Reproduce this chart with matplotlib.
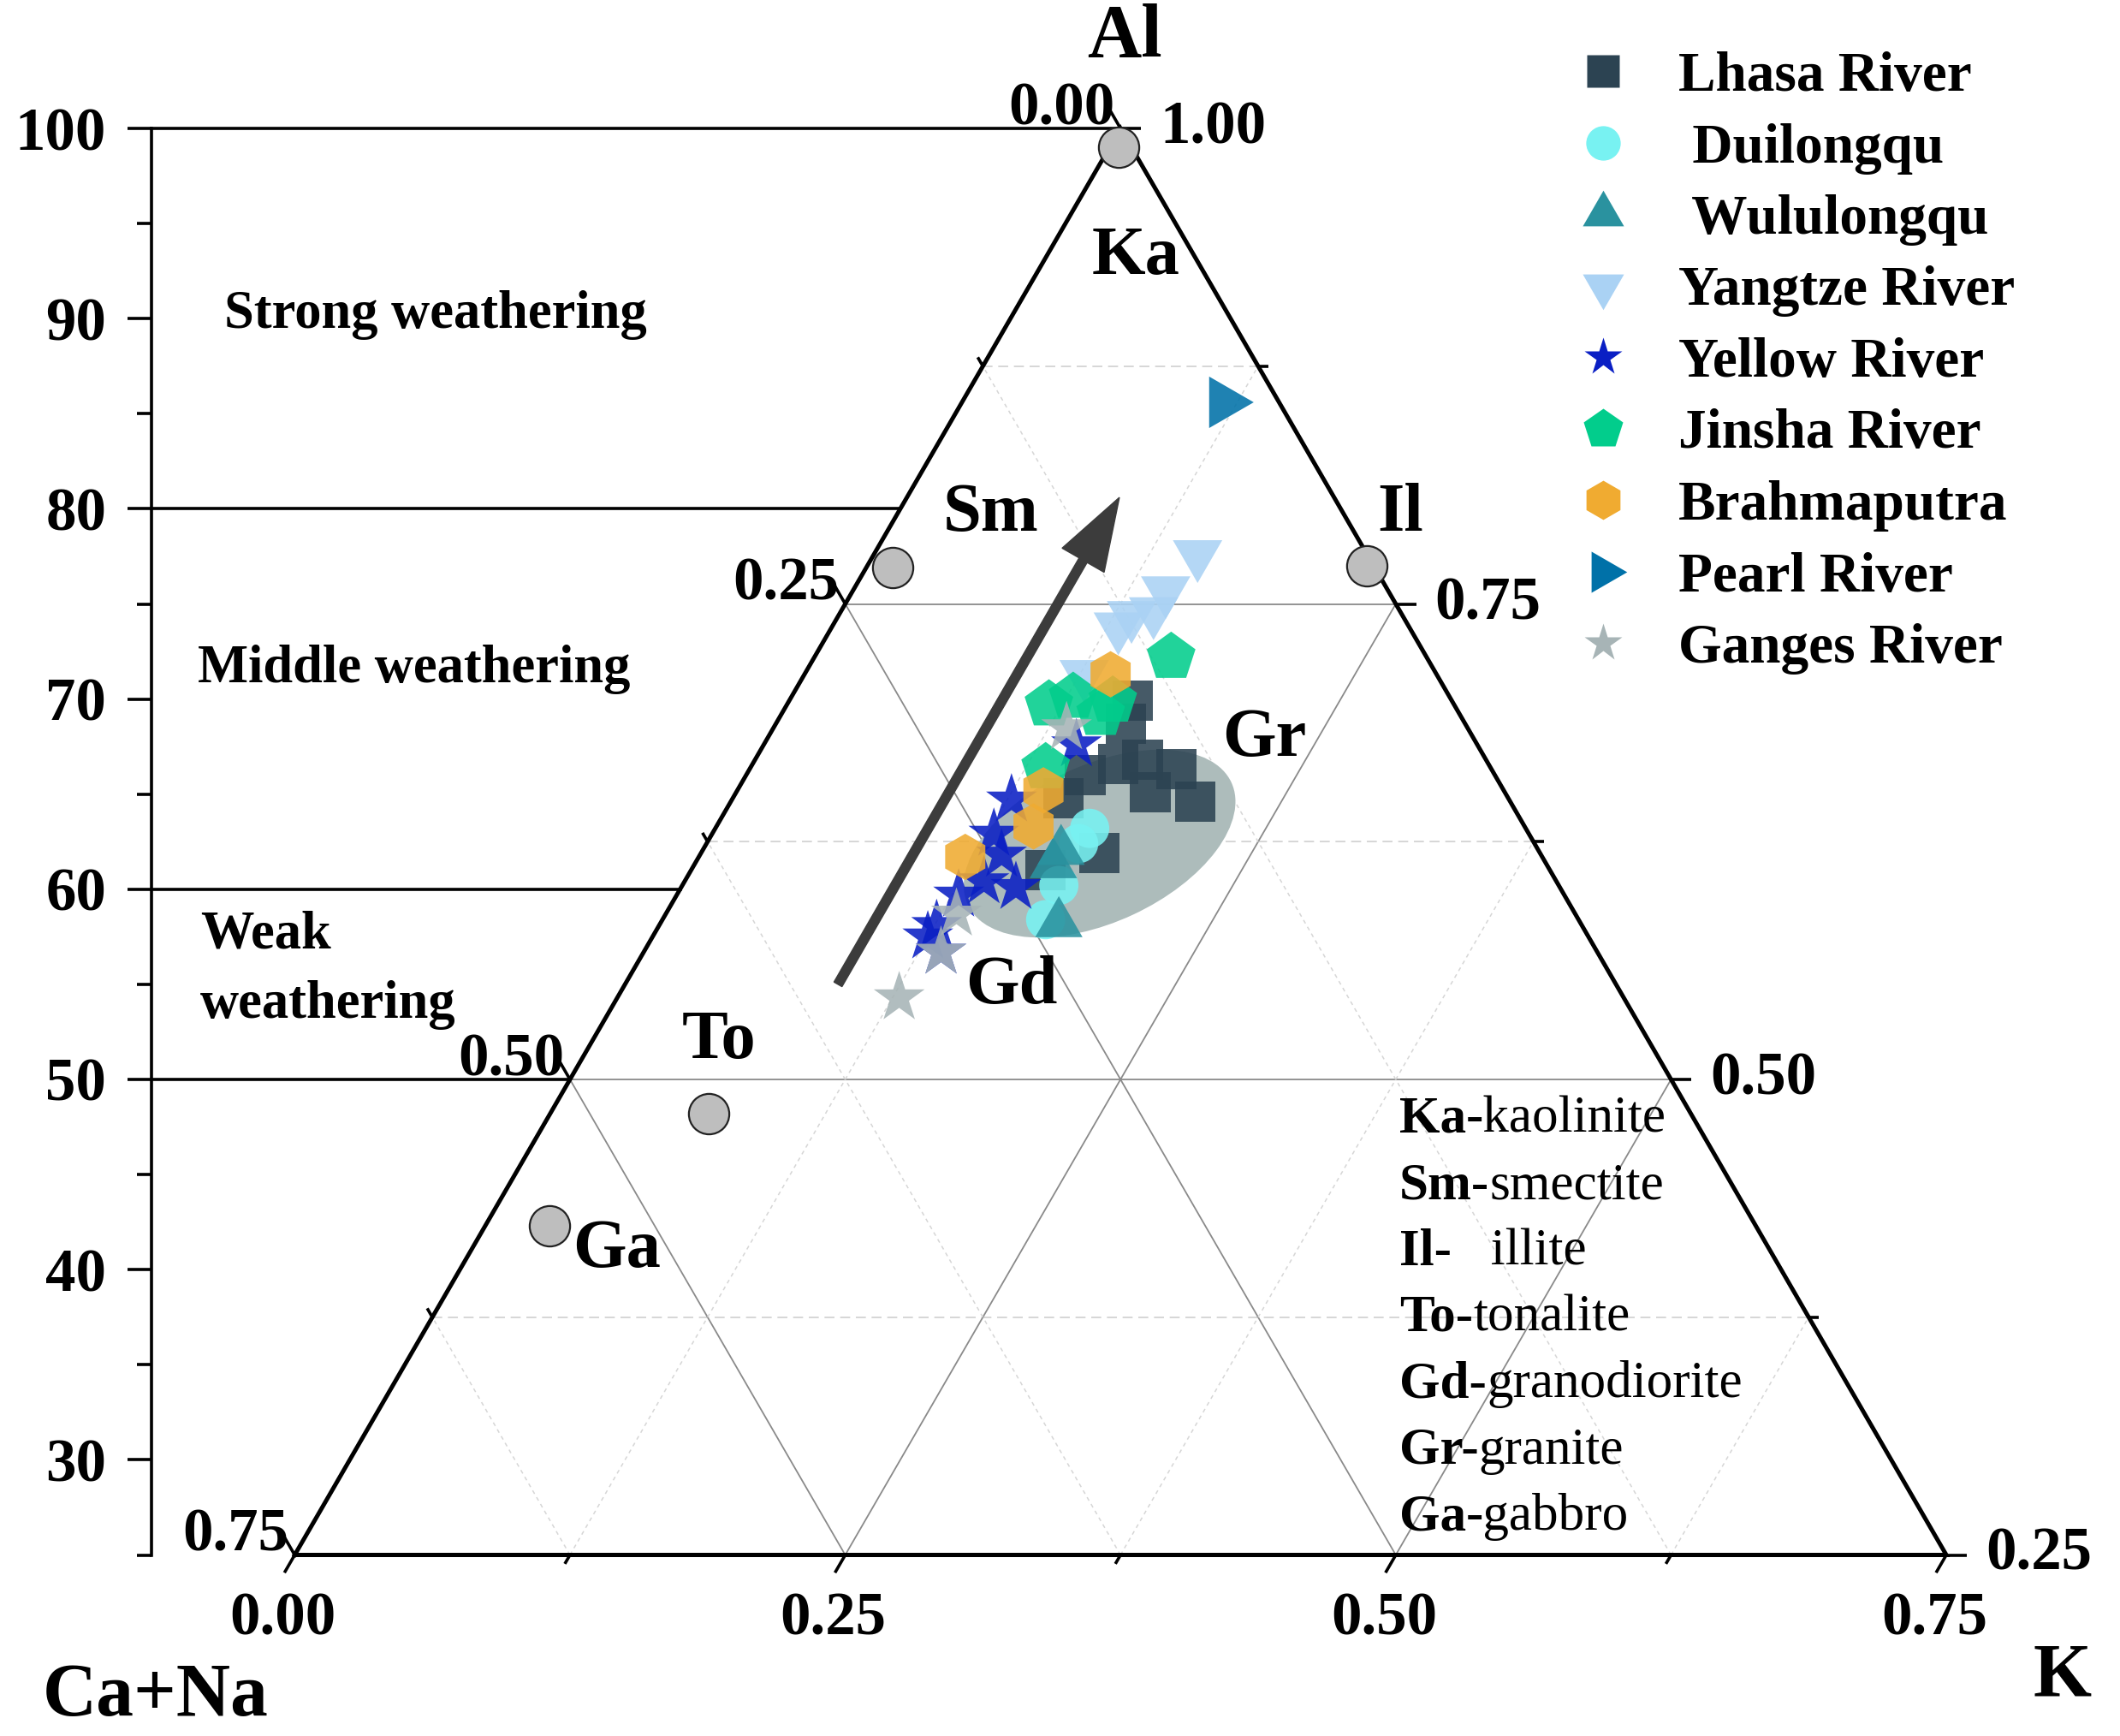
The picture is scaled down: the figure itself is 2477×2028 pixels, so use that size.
import numpy as np
import matplotlib
matplotlib.use("Agg")
import matplotlib.pyplot as plt
from matplotlib.patches import Ellipse, FancyArrow
from matplotlib.lines import Line2D

plt.rcParams['font.family'] = ['Liberation Serif', 'DejaVu Serif']
plt.rcParams['font.weight'] = 'bold'

# ---------------- data (ternary fractions; Ca+Na = 1 - Al - K) ----------------
lhasa_al = [0.699, 0.687, 0.660, 0.666, 0.668, 0.651, 0.663, 0.646, 0.619, 0.610, 0.648]
lhasa_k = [0.156, 0.159, 0.154, 0.166, 0.176, 0.188, 0.194, 0.211, 0.181, 0.161, 0.150]
duilong_al = [0.632, 0.624, 0.602, 0.584]
duilong_k = [0.170, 0.169, 0.171, 0.174]
wulu_al = [0.620, 0.613, 0.582]
wulu_k = [0.163, 0.163, 0.181]
yangtze_al = [0.776, 0.757, 0.746, 0.744, 0.738, 0.713]
yangtze_k = [0.147, 0.142, 0.142, 0.133, 0.130, 0.127]
yellow_al = [0.676, 0.647, 0.629, 0.601, 0.604, 0.597, 0.581, 0.575, 0.567, 0.618]
yellow_k = [0.142, 0.127, 0.128, 0.152, 0.136, 0.128, 0.126, 0.125, 0.135, 0.137]
jinsha_al = [0.722, 0.697, 0.701, 0.692, 0.699, 0.664]
jinsha_k = [0.162, 0.119, 0.128, 0.145, 0.147, 0.134]
brahma_al = [0.713, 0.652, 0.633, 0.617]
brahma_k = [0.139, 0.139, 0.144, 0.121]
pearl_al = [0.856]
pearl_k = [0.119]
ganges_al = [0.685, 0.587, 0.567, 0.543]
ganges_k = [0.133, 0.132, 0.135, 0.128]

series_names = ['Lhasa River', ' Duilongqu', ' Wululongqu', 'Yangtze River', 'Yellow River',
                'Jinsha River', 'Brahmaputra', 'Pearl River', 'Ganges River']

# reference minerals / rocks (grey circles)
ref_names = ['Ka', 'Sm', 'Il', 'To', 'Ga']
ref_al = [0.990, 0.769, 0.770, 0.482, 0.423]
ref_k = [0.004, 0.012, 0.227, 0.072, 0.029]

# granite/granodiorite field (ellipse) and weathering trend arrow
field_center_al, field_center_k = 0.624, 0.1785
arrow_start_al, arrow_start_k = 0.550, 0.0967
arrow_end_al, arrow_end_k = 0.806, 0.0965

cia_major = [30, 40, 50, 60, 70, 80, 90, 100]
cia_minor = [25, 35, 45, 55, 65, 75, 85, 95]
cia_lines = [100, 80, 60, 50]
tern_major = [0.0, 0.25, 0.5, 0.75]
tern_minor = [0.125, 0.375, 0.625]

abbrev_bold = ['Ka', 'Sm-', 'Il-', 'To-', 'Gd-', 'Gr-', 'Ga']
abbrev_rest = ['-kaolinite', 'smectite', '   illite', 'tonalite', 'granodiorite', 'granite', '-gabbro']

# ---------------- figure ----------------
W, H = 2477, 2028
fig = plt.figure(figsize=(W / 100, H / 100), dpi=100)
ax = fig.add_axes([0, 0, 1, 1])

R3 = np.sqrt(3) / 2
AL_MIN = 0.25


def tern(al, k):
    al = np.asarray(al, float)
    k = np.asarray(k, float)
    return k + al / 2, al * R3


S, X0, ALPX, AL1Y = 2573.0, 22.7, 2222.0, 150.0
ax.set_xlim(-X0 / S, (W - X0) / S)
ax.set_ylim((1 - (H - AL1Y) / ALPX) * R3, (1 + AL1Y / ALPX) * R3)


def fxy(xs, ys):
    return xs / 1568.0, 1 - ys / 1284.0


# grid lines
GRID_SOLID = dict(color='#8a8a8a', lw=1.3, zorder=1)
GRID_DASH = dict(color='#d0d0d0', lw=1.2, zorder=1, dashes=(7, 4))
GRID_DOT = dict(color='#d6d6d6', lw=1.1, zorder=1, dashes=(3, 3))
for v in [0.5, 0.75]:
    ax.plot(*tern([v, v], [0, 1 - v]), **GRID_SOLID)
for v in [0.375, 0.625, 0.875]:
    ax.plot(*tern([v, v], [0, 1 - v]), **GRID_DASH)
for v in [0.25, 0.5]:
    ax.plot(*tern([AL_MIN, 1 - v], [v, v]), **GRID_SOLID)
    ax.plot(*tern([AL_MIN, 1 - v], [1 - AL_MIN - v, 0]), **GRID_SOLID)
for v in tern_minor:
    ax.plot(*tern([AL_MIN, 1 - v], [v, v]), **GRID_DOT)
    ax.plot(*tern([AL_MIN, 1 - v], [1 - AL_MIN - v, 0]), **GRID_DOT)

# triangle frame
tx, ty = tern([AL_MIN, 1.0, AL_MIN, AL_MIN], [0, 0, 1 - AL_MIN, 0])
ax.plot(tx, ty, color='black', lw=3.6, zorder=6, solid_joinstyle='miter')

# ternary ticks
LMAJ, LMIN = 24 / S, 12 / S
TK = dict(color='black', lw=2.6, zorder=6, solid_capstyle='butt')
for vals, L in [(tern_major, LMAJ), (tern_minor, LMIN)]:
    for v in vals:
        x, y = tern(1 - v, v)            # right edge (Al axis)
        ax.plot([x, x + L], [y, y], **TK)
        x, y = tern(AL_MIN, v)           # bottom edge (K axis)
        ax.plot([x, x - 0.5 * L], [y, y - R3 * L], **TK)
        x, y = tern(1 - v, 0)            # left edge (Ca+Na axis)
        ax.plot([x, x - 0.5 * L], [y, y + R3 * L], **TK)

TL = dict(fontsize=51, fontweight='bold', textcoords='offset points', zorder=7)
for v in tern_major:
    ax.annotate(f'{1 - v:.2f}', xy=tern(1 - v, v), xytext=(33, 0), ha='left', va='center', **TL)
    ax.annotate(f'{v:.2f}', xy=tern(AL_MIN, v), xytext=(-10, -54), ha='center', va='center', **TL)
    ax.annotate(f'{v:.2f}', xy=tern(1 - v, 0), xytext=(-5, 16), ha='right', va='center', **TL)

# CIA axis (left)
XCIA = (177 - X0) / S
for side in ['top', 'right', 'bottom']:
    ax.spines[side].set_visible(False)
ax.spines['left'].set_position(('data', XCIA))
ax.spines['left'].set_bounds(0.25 * R3, 1.0 * R3)
ax.spines['left'].set_linewidth(2.6)
ax.set_yticks(np.array(cia_major) / 100 * R3, labels=[str(v) for v in cia_major])
ax.set_yticks(np.array(cia_minor) / 100 * R3, minor=True)
ax.tick_params(axis='y', which='major', direction='out', length=20, width=2.6, pad=18, labelsize=51)
ax.tick_params(axis='y', which='minor', direction='out', length=12, width=2.6)
for lbl in ax.get_yticklabels():
    lbl.set_fontweight('bold')
ax.set_xticks([])
for c in cia_lines:
    a = c / 100
    ax.plot([XCIA, a / 2], [a * R3, a * R3], color='black', lw=2.6, zorder=5)

# field ellipse
ex, ey = tern(field_center_al, field_center_k)
ax.add_patch(Ellipse((ex, ey), width=0.132, height=0.0715, angle=25,
                     facecolor='#adbcbb', edgecolor='none', zorder=2))

# arrow
ax0, ay0 = tern(arrow_start_al, arrow_start_k)
ax1, ay1 = tern(arrow_end_al, arrow_end_k)
ax.add_patch(FancyArrow(ax0, ay0, ax1 - ax0, ay1 - ay0, width=0.0042, head_width=0.022,
                        head_length=0.033, length_includes_head=True,
                        color='#3c3c3c', zorder=5))

# reference circles
rx, ry = tern(ref_al, ref_k)
ax.scatter(rx, ry, s=34 ** 2, marker='o', facecolor='#bebebe', edgecolor='#222222',
           linewidths=1.6, zorder=7)

# data series
series_al = [lhasa_al, duilong_al, wulu_al, yangtze_al, yellow_al, jinsha_al, brahma_al, pearl_al, ganges_al]
series_k = [lhasa_k, duilong_k, wulu_k, yangtze_k, yellow_k, jinsha_k, brahma_k, pearl_k, ganges_k]
markers = ['s', 'o', (3, 0, 0), (3, 0, 180), '*', 'p', 'h', (3, 0, 270), '*']
sizes = [34, 33, 46, 48, 45, 43, 39, 50, 45]
leg_sizes = [28, 29, 40, 40, 33, 35, 33, 40, 33]
colors = ['#2c4352', '#78f2f2', '#2a929f', '#aad2f4', '#0a1fc4', '#02cd8c', '#f0ab31', '#0071a8', '#a7b4b6']
handles = []
for i in range(len(series_names)):
    px, py = tern(series_al[i], series_k[i])
    ax.scatter(px, py, s=sizes[i] ** 2, marker=markers[i], color=colors[i],
               edgecolors='none', alpha=0.88, zorder=10 + i)
    handles.append(Line2D([], [], linestyle='None', marker=markers[i], color=colors[i],
                          markeredgecolor='none', markersize=leg_sizes[i]))

leg = ax.legend(handles, series_names, loc='upper left', bbox_to_anchor=(1840 / W, 1 - 60 / H),
                bbox_transform=fig.transFigure, frameon=False, borderpad=0, borderaxespad=0,
                handlelength=1.0, handletextpad=0.85, labelspacing=0.36,
                prop=dict(family='Liberation Serif', weight='bold', size=47))

# texts
BIG = dict(fontsize=63, fontweight='bold', transform=fig.transFigure, ha='center', va='center')
fig.text(*fxy(832, 28), 'Al', **BIG)
fig.text(*fxy(115, 1255), 'Ca+Na', **BIG)
fig.text(*fxy(1525, 1240), 'K', **BIG)

MID = dict(fontsize=45, fontweight='bold', transform=fig.transFigure, va='center')
fig.text(*fxy(322, 233), 'Strong weathering', ha='center', **MID)
fig.text(*fxy(306, 495), 'Middle weathering', ha='center', **MID)
fig.text(*fxy(148, 692), 'Weak', ha='left', **MID)
fig.text(*fxy(148, 743), 'weathering', ha='left', **MID)

LAB = dict(fontsize=58, fontweight='bold', transform=fig.transFigure, ha='center', va='center')
for name, (xs, ys) in zip(['Ka', 'Sm', 'Il', 'To', 'Gd', 'Gr', 'Ga'],
                          [(840, 190), (733, 380), (1036, 380), (532, 770), (748, 730), (935, 547), (456, 925)]):
    fig.text(*fxy(xs, ys), name, **LAB)

for i, (b, r) in enumerate(zip(abbrev_bold, abbrev_rest)):
    t = fig.text(*fxy(1035, 828 + 49 * i), b, fontsize=44, fontweight='bold',
                 ha='left', va='center')
    ax.annotate(r, xy=(1, 0), xycoords=t, ha='left', va='bottom', fontsize=44,
                fontweight='normal')

fig.savefig('out.png', dpi=100)
